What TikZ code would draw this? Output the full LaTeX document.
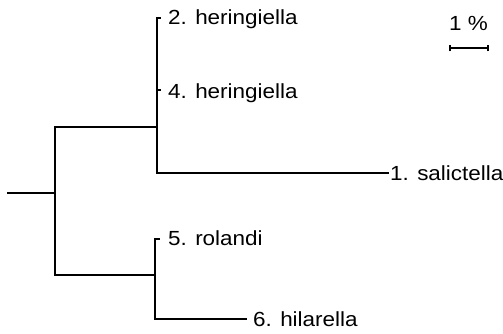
\documentclass[tikz,border=0pt]{standalone}
\usepackage{fontspec}
\usepackage{graphicx}
\setmainfont{Liberation Sans}
\newcommand{\taxtext}[1]{\scalebox{1.1}[1]{#1}}
\tikzset{
  branch/.style={line width=2bp, line cap=rect},
  taxon/.style={anchor=base west, inner sep=0pt, font=\fontsize{20.5}{24}\selectfont},
}
\begin{document}
\begin{tikzpicture}[x=1bp, y=-1bp]
\useasboundingbox (0,0) rectangle (503,333);
% internal nodes
\coordinate (stem) at (8,193);
\coordinate (root) at (55,193);
\coordinate (rootU) at (55,127);
\coordinate (rootL) at (55,275);
\coordinate (nU) at (157,127);
\coordinate (nL) at (155,275);
% tips
\coordinate (t2) at (160,18);
\coordinate (t4) at (160,90);
\coordinate (t1) at (388,173);
\coordinate (t5) at (159,239);
\coordinate (t6) at (246,319);
% tree
\draw[branch, line width=1.4bp] (stem) -- (root);
\draw[branch] (rootU) -- (rootL);
\draw[branch] (rootU) -- (nU);
\draw[branch] (rootL) -- (nL);
\draw[branch] (t2) -| (157,173) -- (t1);
\draw[branch] (157,90) -- (t4);
\draw[branch] (t5) -| (155,319) -- (t6);
% labels
\node[taxon] (l2) at (168,24) {\taxtext{2. heringiella}};
\node[taxon] (l4) at (168,98) {\taxtext{4. heringiella}};
\node[taxon] (l1) at (390,180) {\taxtext{1. salictella}};
\node[taxon] (l5) at (168,245) {\taxtext{5. rolandi}};
\node[taxon] (l6) at (253,326) {\taxtext{6. hilarella}};
% scale bar
\coordinate (sa) at (450,48);
\coordinate (sb) at (488,48);
\draw[branch, line cap=butt] (sa) -- (sb);
\draw[line width=1.4bp] ([yshift=-3.5]sa) -- ([yshift=3.5]sa) ([yshift=-3.5]sb) -- ([yshift=3.5]sb);
\node[taxon] (sl) at (449,30) {\taxtext{1 \%}};
\end{tikzpicture}
\end{document}
